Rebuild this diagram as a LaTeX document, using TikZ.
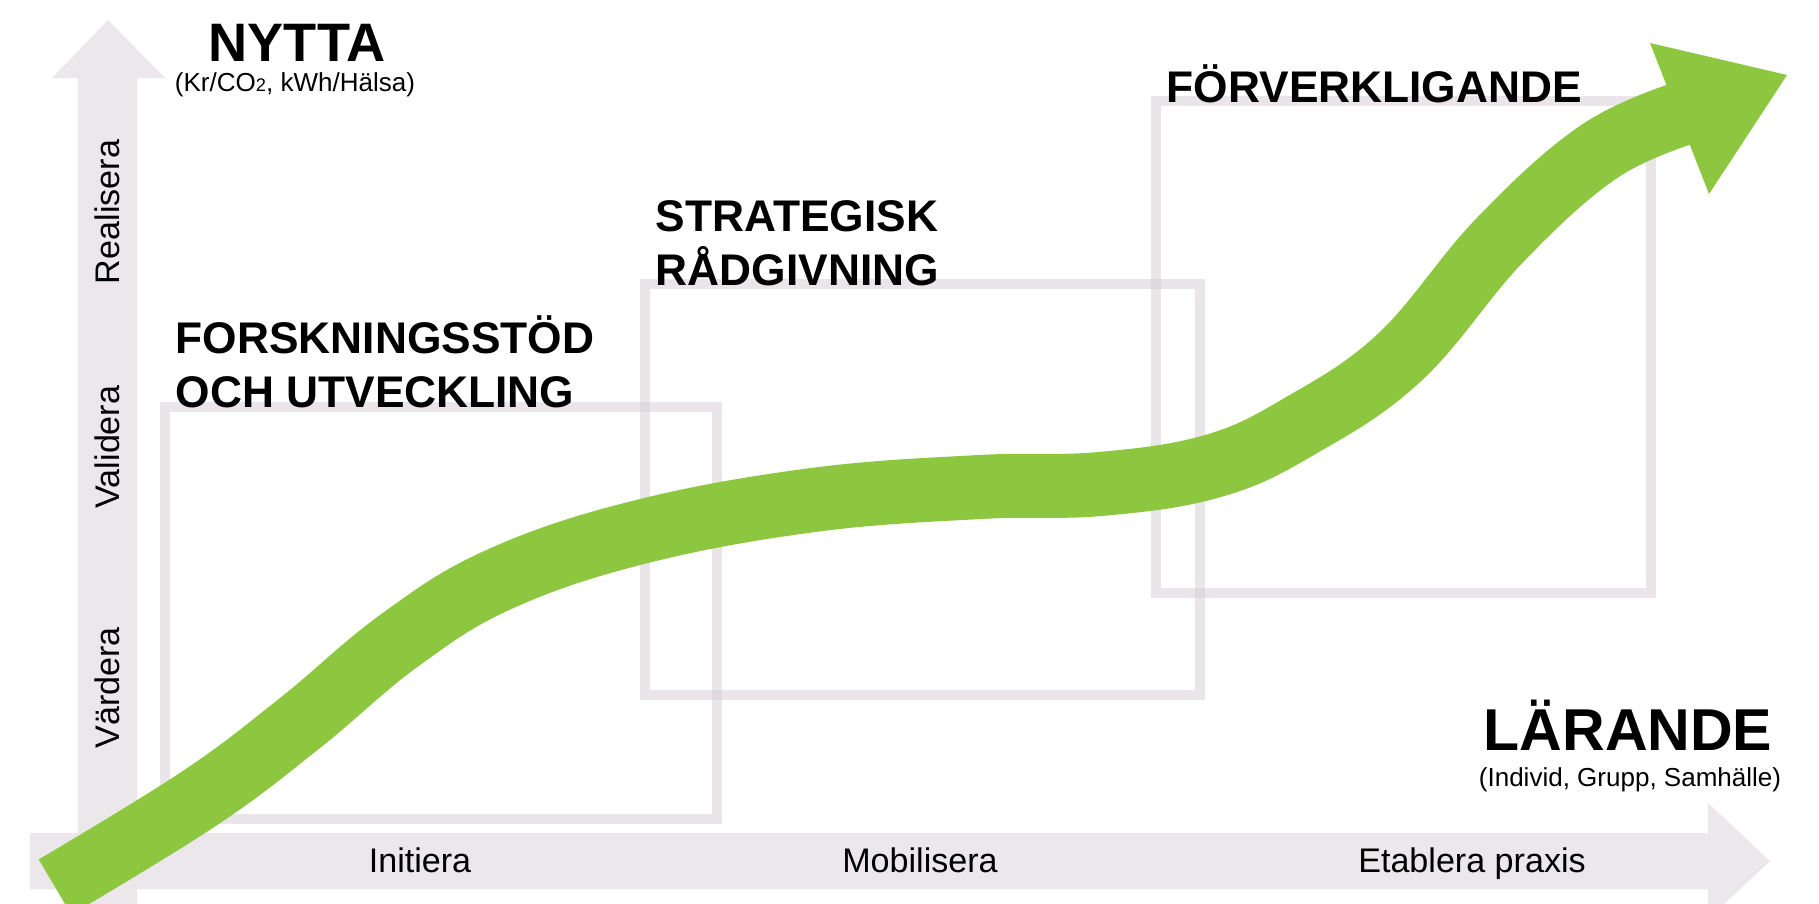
\documentclass[tikz,border=0pt]{standalone}
\usepackage{fontspec}
\setmainfont{Liberation Sans}
\definecolor{axisgray}{RGB}{235,231,234}
\definecolor{boxgray}{RGB}{214,205,211}
\definecolor{leafgreen}{RGB}{141,198,63}

\begin{document}
\begin{tikzpicture}[
        x=0.01cm, y=-0.01cm,
        axis/.style={fill=axisgray},
        phasebox/.style={draw=boxgray, draw opacity=0.5, line width=1.05mm},
        phasetitle/.style={font=\fontsize{12.6}{15.1}\selectfont\bfseries,
                           align=left, anchor=base west, inner sep=0pt},
        steplabel/.style={font=\fontsize{9.7}{11}\selectfont, inner sep=0pt},
        axistitle/.style={font=\fontsize{15.4}{18}\selectfont\bfseries,
                          anchor=base, inner sep=0pt},
        axisnote/.style={font=\fontsize{7.4}{9}\selectfont, anchor=base, inner sep=0pt},
    ]
    \path[use as bounding box] (0,0) rectangle (1819,903);
    \clip (0,0) rectangle (1819,903);
    \fill[white] (0,0) rectangle (1819,903);

    \fill[axis] (78,960) -- (78,78) -- (52,78) -- (108,20) -- (165,78)
        -- (137,78) -- (137,960) -- cycle;
    \fill[axis] (30,833) -- (1708,833) -- (1708,803) -- (1770,861)
        -- (1708,919) -- (1708,889) -- (30,889) -- cycle;

    \draw[phasebox] (165,407) rectangle (717,819);
    \draw[phasebox] (645,284) rectangle (1200,695);
    \draw[phasebox] (1156,101) rectangle (1651,593);

    \draw[leafgreen, line width=6.4mm] plot[smooth, tension=0.65] coordinates {
        (55,887) (200,798) (300,723) (400,640) (500,579) (640,532) (813,500)
        (980,487) (1100,484) (1213,466) (1300,426) (1400,357) (1500,240)
        (1600,151) (1690,111)};
    \fill[leafgreen] (1650,43) -- (1787,75) -- (1709,194) -- cycle;

    \node[phasetitle] (research) at (175,407) {FORSKNINGSSTÖD\\OCH UTVECKLING};
    \node[phasetitle] (advice) at (655,285) {STRATEGISK\\RÅDGIVNING};
    \node[phasetitle] (realize) at (1166,102) {FÖRVERKLIGANDE};

    \node[axistitle] (benefit) at (297,61) {NYTTA};
    \node[axisnote] (benefitnote) at (295,91)
        {(Kr/CO{\fontsize{5.2}{6}\selectfont 2}, kWh/Hälsa)};
    \node[axistitle, font=\fontsize{16.8}{20}\selectfont\bfseries] (learning)
        at (1628,750) {LÄRANDE};
    \node[axisnote] (learningnote) at (1630,786) {(Individ, Grupp, Samhälle)};

    \node[steplabel, anchor=base] (initiate) at (420,872) {Initiera};
    \node[steplabel, anchor=base] (mobilize) at (920,872) {Mobilisera};
    \node[steplabel, anchor=base] (establish) at (1472,872) {Etablera praxis};
    \node[steplabel, rotate=90] (realise) at (107,212) {Realisera};
    \node[steplabel, rotate=90] (validate) at (107,447) {Validera};
    \node[steplabel, rotate=90] (evaluate) at (107,688) {Värdera};
\end{tikzpicture}
\end{document}
